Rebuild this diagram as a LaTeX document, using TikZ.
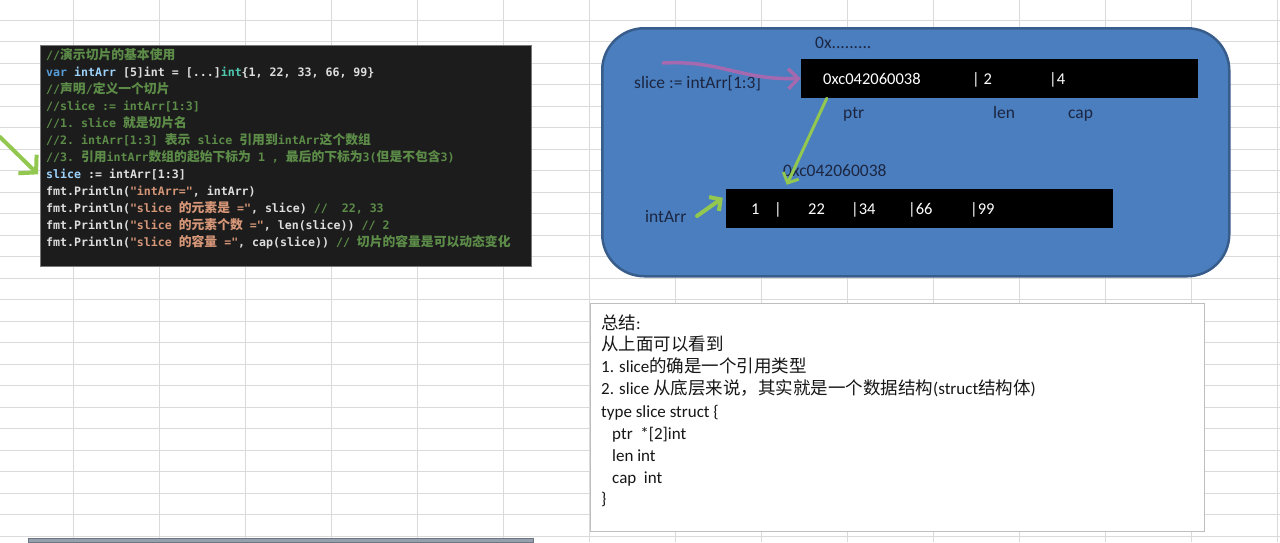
\documentclass[tikz,border=0pt]{standalone}
\usepackage{fontspec}
\setmainfont{Carlito}
\setmonofont{DejaVu Sans Mono}
\newfontfamily\cjk{Noto Sans CJK SC}
\usetikzlibrary{arrows.meta}
\definecolor{gridc}{RGB}{218,218,218}
\definecolor{codebg}{RGB}{28,28,28}
\definecolor{codetxt}{RGB}{222,222,222}
\definecolor{cmt}{RGB}{92,140,72}
\definecolor{kw}{RGB}{86,156,214}
\definecolor{vr}{RGB}{156,210,250}
\definecolor{ty}{RGB}{78,201,176}
\definecolor{st}{RGB}{214,150,120}
\definecolor{bluefill}{RGB}{74,126,190}
\definecolor{blueedge}{RGB}{56,93,138}
\definecolor{navy}{RGB}{28,38,66}
\definecolor{lgreen}{RGB}{146,200,80}
\definecolor{purp}{RGB}{165,105,175}
\definecolor{sumtxt}{RGB}{22,22,22}
\newcommand\zc[1]{{\cjk\bfseries\fontsize{12.8}{17}\selectfont #1}}
\newcommand\zs[1]{{\cjk\fontsize{17.5}{22}\selectfont #1}}
\newcommand\cm[1]{\textcolor{cmt}{#1}}
\newcommand\kwd[1]{\textcolor{kw}{#1}}
\newcommand\vrb[1]{\textcolor{vr}{#1}}
\newcommand\typ[1]{\textcolor{ty}{#1}}
\newcommand\str[1]{\textcolor{st}{#1}}
\tikzset{
  codeline/.style={anchor=base west, inner sep=0pt, text=codetxt,
    font=\ttfamily\bfseries\fontsize{11.6}{17}\selectfont},
  bluelabel/.style={anchor=base west, inner sep=0pt, text=navy,
    font=\fontsize{17.5}{20}\selectfont},
  whitetxt/.style={anchor=base west, inner sep=0pt, text=white,
    font=\fontsize{16.5}{20}\selectfont},
  sumline/.style={anchor=base west, inner sep=0pt, text=sumtxt,
    font=\fontsize{17}{22}\selectfont},
  blackbox/.style={fill=black, draw=none, inner sep=0pt},
  greenarrow/.style={draw=lgreen, line width=3.5pt, line cap=round,
    -{Straight Barb[length=8pt,width=17pt]}},
}
\begin{document}
\begin{tikzpicture}[x=1pt,y=-1pt]
\useasboundingbox (0,0) rectangle (1280,542);
\fill[white] (0,0) rectangle (1280,542);
% spreadsheet grid
\foreach \i in {0,...,14} \draw[gridc, line width=1pt] ({73+86.07*\i},0) -- ({73+86.07*\i},542);
\foreach \j in {0,...,24} \draw[gridc, line width=1pt] (0,{20+21.5*\j}) -- (1280,{20+21.5*\j});
% bottom bar
\fill[draw={rgb,255:red,110;green,120;blue,132}, fill={rgb,255:red,150;green,160;blue,172}] (28,538) rectangle (533,542);

% code box
\node[fill=codebg, draw={rgb,255:red,120;green,120;blue,120}, line width=0.6pt,
  minimum width=491pt, minimum height=221pt, anchor=north west, inner sep=0pt] (code) at (40,45) {};
\node[codeline] (c1) at (46,59.3) {\cm{//\zc{演示切片的基本使用}}};
\node[codeline] (c2) at (46,76.3) {\kwd{var} \vrb{intArr} [5]int = [...]\typ{int}\{1, 22, 33, 66, 99\}};
\node[codeline] (c3) at (46,93.3) {\cm{//\zc{声明}/\zc{定义一个切片}}};
\node[codeline] (c4) at (46,110.3) {\cm{//slice := intArr[1:3]}};
\node[codeline] (c5) at (46,127.3) {\cm{//1. slice \zc{就是切片名}}};
\node[codeline] (c6) at (46,144.3) {\cm{//2. intArr[1:3] \zc{表示} slice \zc{引用到}intArr\zc{这个数组}}};
\node[codeline] (c7) at (46,161.3) {\cm{//3. \zc{引用}intArr\zc{数组的起始下标为} 1 , \zc{最后的下标为}3(\zc{但是不包含}3)}};
\node[codeline] (c8) at (46,178.3) {\vrb{slice} := intArr[1:3]};
\node[codeline] (c9) at (46,195.3) {fmt.Println(\str{"intArr="}, intArr)};
\node[codeline] (c10) at (46,212.3) {fmt.Println(\str{"slice \zc{的元素是} ="}, slice) \cm{//\ \ 22, 33}};
\node[codeline] (c11) at (46,229.3) {fmt.Println(\str{"slice \zc{的元素个数} ="}, len(slice)) \cm{// 2}};
\node[codeline] (c12) at (46,246.3) {fmt.Println(\str{"slice \zc{的容量} ="}, cap(slice)) \cm{// \zc{切片的容量是可以动态变化}}};

% left green arrow
\coordinate (la) at (0,137);
\draw[greenarrow, line width=4pt, -{Straight Barb[length=12pt,width=26pt]}] (la) -- ([xshift=-2pt,yshift=-18.5pt]code.west);

% blue rounded panel
\node[fill=bluefill, draw=blueedge, line width=2.5pt, rounded corners=42pt,
  minimum width=627pt, minimum height=248pt, anchor=north west, inner sep=0pt] (panel) at (601,27) {};

\node[bluelabel] (dots) at (815,48) {0x.........};
\node[bluelabel] (slbl) at (634,88) {slice := intArr[1:3]};
\node[blackbox, minimum width=397pt, minimum height=39pt] (top) at (999.5,78.5) {};
\node[whitetxt] (t1) at (823,84) {0xc042060038};
\node[whitetxt] (t2) at (972,84) {| 2};
\node[whitetxt] (t3) at (1049,84) {|4};
\node[bluelabel] (ptr) at (843,118) {ptr};
\node[bluelabel] (len) at (993,118) {len};
\node[bluelabel] (cap) at (1068,118) {cap};

\node[bluelabel] (addr) at (783,176) {0xc042060038};
\node[blackbox, minimum width=387pt, minimum height=39pt] (arr) at (919.5,208.5) {};
\node[whitetxt] (a1) at (751,214) {1};
\node[whitetxt] (a2) at (774,214) {|};
\node[whitetxt] (a3) at (808,214) {22};
\node[whitetxt] (a4) at (851,214) {|34};
\node[whitetxt] (a5) at (908,214) {|66};
\node[whitetxt] (a6) at (970,214) {|99};
\node[bluelabel] (ilbl) at (645,222) {intArr};

% purple arrow
\coordinate (ps) at (663,63);
\draw[draw=purp, line width=3.5pt, line cap=round, -{Straight Barb[length=10pt,width=20pt]}]
  (ps) .. controls (720,60) and (740,80) .. (top.west);
% green pointer arrow
\draw[greenarrow, line width=3pt] ([xshift=26pt]top.south west) -- ([xshift=61pt,yshift=4pt]arr.north west);
% intArr arrow
\coordinate (ia) at (697,216);
\draw[greenarrow, line width=4pt] (ia) -- ([xshift=-3pt,yshift=-9pt]arr.north west);

% summary box
\node[fill=white, draw={rgb,255:red,190;green,190;blue,190}, line width=1pt,
  minimum width=614pt, minimum height=228pt, anchor=north west, inner sep=0pt] (sum) at (590,303) {};
\node[sumline] (s1) at (601,329) {\zs{总结}:};
\node[sumline] (s2) at (601,350) {\zs{从上面可以看到}};
\node[sumline] (s3) at (601,372) {1. slice\zs{的确是一个引用类型}};
\node[sumline] (s4) at (601,394) {2. slice \zs{从底层来说，其实就是一个数据结构}(struct\zs{结构体})};
\node[sumline] (s5) at (601,417) {type slice struct \{};
\node[sumline] (s6) at (612,439) {ptr\ \ *[2]int};
\node[sumline] (s7) at (612,461) {len int};
\node[sumline] (s8) at (612,483) {cap\ \ int};
\node[sumline] (s9) at (601,504) {\}};
\end{tikzpicture}
\end{document}
